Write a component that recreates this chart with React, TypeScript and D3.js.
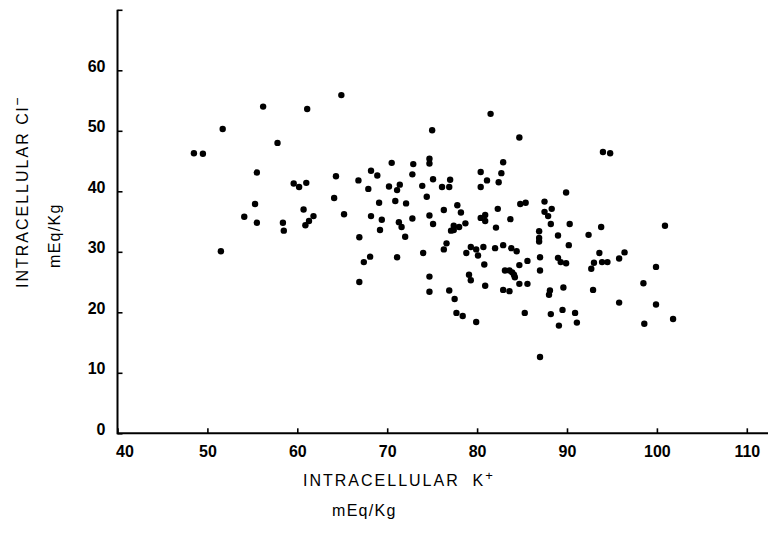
import React, { useEffect, useRef } from "react";
import { select, scaleLinear, axisBottom, axisLeft } from "d3";

// intracellular K+ (mEq/Kg)
const potassium = [
  56.2, 61.1, 64.9, 51.7, 57.8, 48.5, 49.5, 55.5, 64.3, 59.6, 60.2, 61.0, 64.1, 55.3, 60.7, 54.1, 61.8, 55.5, 58.4, 61.3, 60.9, 58.5, 51.5,
  81.5, 75.0, 84.7, 70.5, 72.9, 74.7, 74.7, 82.9, 68.2, 68.9, 72.8, 80.4, 82.7, 66.8, 75.1, 77.0, 81.1, 82.4, 67.9, 70.2,
  71.4, 71.1, 73.9, 76.1, 76.9, 80.4, 74.4, 69.1, 70.9, 72.1, 77.8, 84.8, 85.4, 65.2, 68.2, 69.4, 72.8, 74.7, 76.3, 78.2,
  82.3, 71.3, 71.6, 75.1, 77.4, 78.0, 77.1, 77.4, 78.7, 80.4, 80.9, 80.9, 82.1, 83.7, 69.2, 66.9, 72.0,
  94.0, 94.8, 89.9, 87.5, 88.3, 87.5, 87.9, 88.2, 90.3, 93.8, 100.9, 86.9, 89.0, 92.4, 86.9,
  76.6, 76.3, 79.3, 79.9, 80.7, 82.0, 82.9, 83.8, 84.4, 74.0, 78.8, 80.1, 68.1, 67.4, 71.1, 80.8, 84.7, 85.6, 83.1, 83.6,
  83.9, 84.1, 84.2, 79.1, 79.3, 74.7, 66.9, 80.9, 84.7, 85.6, 74.7, 76.9, 82.9, 83.6, 77.5, 77.7, 78.4, 79.9, 85.3,
  86.9, 90.2, 93.6, 96.4, 95.8, 87.0, 89.0, 89.3, 89.9, 93.0, 93.9, 94.5, 99.9, 92.7, 87.0, 89.6, 92.9, 98.5, 88.1, 88.0,
  95.8, 99.9, 89.5, 90.9, 88.2, 89.1, 91.1, 98.6, 101.8, 87.0,
];

// intracellular Cl- (mEq/Kg), same order
const chloride = [
  54.0, 53.6, 55.9, 50.3, 48.0, 46.3, 46.2, 43.1, 42.5, 41.3, 40.7, 41.4, 38.9, 37.9, 37.0, 35.8, 35.9, 34.8, 34.8, 35.1, 34.4, 33.5, 30.1,
  52.8, 50.1, 48.9, 44.7, 44.5, 45.4, 44.6, 44.8, 43.4, 42.6, 42.8, 43.2, 43.0, 41.8, 42.0, 41.9, 41.8, 41.5, 40.4, 40.8,
  41.1, 40.2, 40.9, 40.7, 40.7, 40.7, 39.1, 38.1, 38.4, 38.0, 37.7, 37.9, 38.1, 36.2, 35.9, 35.3, 35.5, 36.0, 36.9, 36.5,
  37.1, 34.9, 34.1, 34.6, 34.3, 34.1, 33.5, 33.6, 34.7, 35.6, 36.1, 35.1, 34.0, 35.4, 33.6, 32.4, 32.5,
  46.5, 46.3, 39.8, 38.3, 37.1, 36.6, 35.9, 34.6, 34.6, 34.1, 34.3, 33.4, 32.7, 32.8, 32.3,
  31.4, 30.4, 30.8, 30.4, 30.8, 30.6, 31.1, 30.6, 30.1, 29.8, 29.8, 29.4, 29.2, 28.3, 29.1, 27.9, 27.8, 28.5, 26.9, 26.9,
  26.6, 26.2, 25.8, 26.2, 25.3, 25.9, 25.0, 24.4, 24.7, 24.7, 23.4, 23.6, 23.7, 23.5, 22.2, 19.9, 19.4, 18.4, 19.9,
  31.7, 31.1, 29.8, 29.9, 28.9, 29.1, 29.0, 28.3, 28.1, 28.2, 28.3, 28.3, 27.5, 27.2, 26.9, 24.1, 23.7, 24.8, 23.6, 22.9,
  21.6, 21.3, 20.4, 19.9, 19.7, 17.8, 18.3, 18.1, 18.9, 12.6,
];

const xTicks = [40, 50, 60, 70, 80, 90, 100, 110];
const yTicks = [0, 10, 20, 30, 40, 50, 60, 70];

const W = 770;
const H = 533;
const font = "'Liberation Sans', Arial, sans-serif";

export default function App() {
  const svgRef = useRef<SVGSVGElement>(null);

  useEffect(() => {
    const svg = select(svgRef.current);
    const x = scaleLinear().domain([40, 110]).range([117.5, 746.8]);
    const y = scaleLinear().domain([0, 70]).range([433.3, 9.8]);

    const xAxis = axisBottom(x)
      .tickValues(xTicks)
      .tickSize(-5)
      .tickPadding(12)
      .tickFormat((d) => String(d));
    const yAxis = axisLeft(y)
      .tickValues(yTicks)
      .tickSize(-5)
      .tickPadding(12)
      .tickFormat((d) => (d === 70 ? "" : String(d)));

    const gx = svg.select<SVGGElement>(".x-axis").attr("transform", `translate(0, ${y(0)})`).call(xAxis);
    gx.select(".domain").remove();
    gx.selectAll("line").attr("stroke", "#000").attr("stroke-width", 1.6);
    gx.selectAll("text")
      .attr("font-family", font)
      .attr("font-size", 16)
      .attr("font-weight", "bold")
      .attr("fill", "#000")
      .attr("dx", (d) => (d === 40 ? 7 : 0));

    const gy = svg.select<SVGGElement>(".y-axis").attr("transform", `translate(${x(40)}, 0)`).call(yAxis);
    gy.select(".domain").remove();
    gy.selectAll("line").attr("stroke", "#000").attr("stroke-width", 1.6);
    gy.selectAll("text")
      .attr("font-family", font)
      .attr("font-size", 16)
      .attr("font-weight", "bold")
      .attr("fill", "#000")
      .attr("dy", "0.07em");

    // axis lines
    svg.select(".frame").selectAll("*").remove();
    const frame = svg.select(".frame");
    frame
      .append("line")
      .attr("x1", x(40))
      .attr("x2", 768)
      .attr("y1", y(0))
      .attr("y2", y(0))
      .attr("stroke", "#000")
      .attr("stroke-width", 2);
    frame
      .append("line")
      .attr("x1", x(40))
      .attr("x2", x(40))
      .attr("y1", y(0) + 1)
      .attr("y2", y(70))
      .attr("stroke", "#000")
      .attr("stroke-width", 2);

    svg
      .select(".dots")
      .selectAll("circle")
      .data(potassium.map((k, i) => [k, chloride[i]]))
      .join("circle")
      .attr("cx", (d) => x(d[0]))
      .attr("cy", (d) => y(d[1]))
      .attr("r", 3.2)
      .attr("fill", "#000");
  }, []);

  const labelStyle = { fontFamily: font, fontSize: 16, letterSpacing: 2 } as const;

  return (
    <svg
      ref={svgRef}
      width={W}
      height={H}
      style={{ position: "absolute", left: 0, top: 0, background: "#fff" }}
    >
      <g className="frame" />
      <g className="x-axis" />
      <g className="y-axis" />
      <g className="dots" />

      <text x={303} y={486} style={labelStyle}>
        INTRACELLULAR{"\u00a0\u00a0"}K<tspan dy={-6} fontSize={13}>+</tspan>
      </text>
      <text x={332} y={516} style={{ ...labelStyle, letterSpacing: 1.3 }}>
        mEq/Kg
      </text>

      <g transform="translate(28, 288) rotate(-90)">
        <text x={0} y={0} style={labelStyle}>
          INTRACELLULAR Cl<tspan dy={-6} fontSize={14}>{"\u2212"}</tspan>
        </text>
      </g>
      <g transform="translate(60, 268) rotate(-90)">
        <text x={0} y={0} style={{ ...labelStyle, letterSpacing: 1.3 }}>
          mEq/Kg
        </text>
      </g>
    </svg>
  );
}
